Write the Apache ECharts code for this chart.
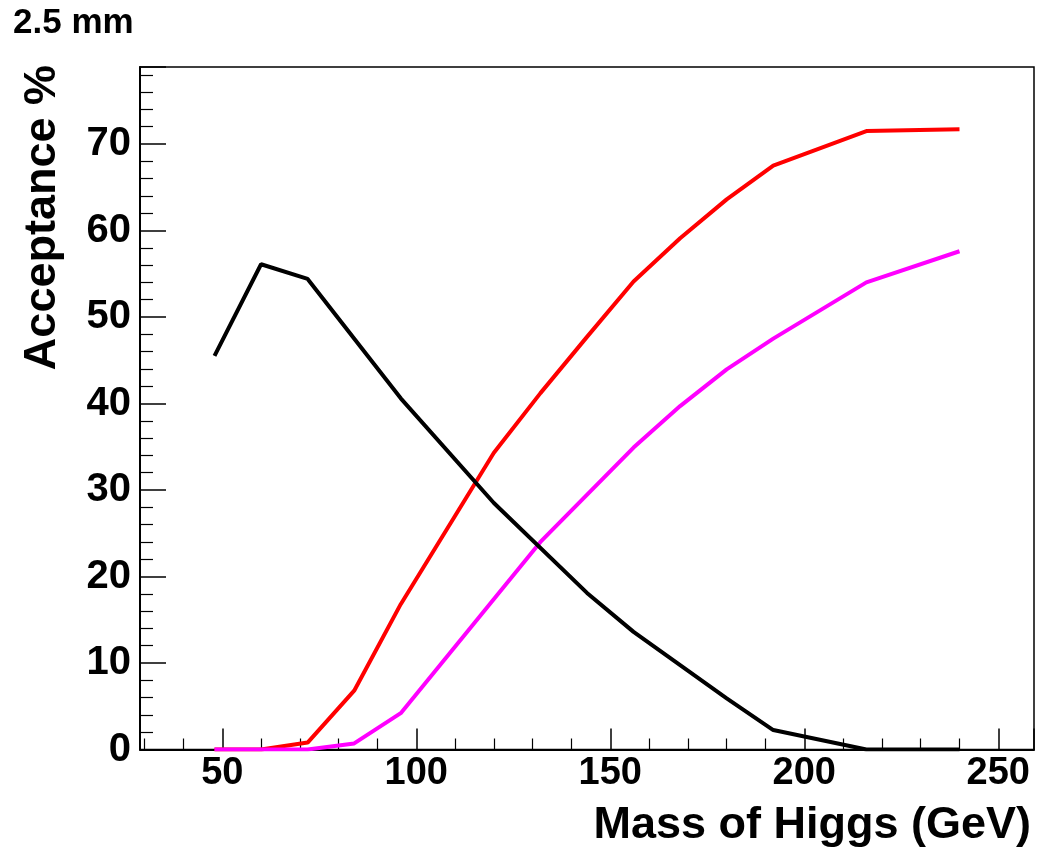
<!DOCTYPE html>
<html>
<head>
<meta charset="utf-8">
<script src="https://cdn.jsdelivr.net/npm/echarts@6/dist/echarts.min.js"></script>
<style>html,body{margin:0;padding:0;background:#fff}#c{width:1039px;height:852px}</style>
</head>
<body>
<div id="c"></div>
<script>
// Data (mass in GeV, acceptance in %)
const blackX = [48, 60, 72, 96, 120, 144, 156, 180, 192, 216, 240];
const blackY = [45.5, 56.1, 54.4, 40.6, 28.5, 18.1, 13.6, 5.9, 2.25, 0, 0];
const redX = [48, 60, 72, 84, 96, 120, 132, 144, 156, 168, 180, 192, 216, 240];
const redY = [0, 0, 0.8, 6.8, 16.8, 34.3, 41.2, 47.7, 54.1, 59.1, 63.6, 67.5, 71.5, 71.7];
const magX = [48, 60, 72, 84, 96, 132, 156, 168, 180, 192, 216, 240];
const magY = [0, 0, 0, 0.7, 4.2, 24.0, 34.9, 39.7, 43.95, 47.5, 54.0, 57.6];
const xRange = [28.8, 259.2];
const yRange = [0, 78.9];
const xTitle = 'Mass of Higgs (GeV)';
const yTitle = 'Acceptance %';
const topLabel = '2.5 mm';

const pairs = (xs, ys) => xs.map((x, i) => [x, ys[i]]);
const FONT = '"Liberation Sans", Arial, sans-serif';

const chart = echarts.init(document.getElementById('c'), null, {renderer: 'canvas'});
const lineSeries = (name, xs, ys, color) => ({
  name, type: 'line', data: pairs(xs, ys), showSymbol: false, symbol: 'none',
  lineStyle: {color, width: 4}, itemStyle: {color}, animation: false, z: 3
});
chart.setOption({
  animation: false,
  backgroundColor: '#fff',
  grid: {left: 140, top: 67, right: 5, bottom: 102.5, show: true, borderColor: '#000', borderWidth: 1.5, containLabel: false, outerBoundsMode: 'none'},
  xAxis: {
    type: 'value', min: xRange[0], max: xRange[1], splitNumber: 5,
    axisLine: {show: true, onZero: false, lineStyle: {color: '#000', width: 2}},
    axisTick: {show: true, inside: true, length: 21, lineStyle: {color: '#000', width: 1.5}},
    minorTick: {show: true, splitNumber: 5, length: 11, lineStyle: {color: '#000', width: 1.2}},
    splitLine: {show: false},
    axisLabel: {show: true, showMinLabel: false, showMaxLabel: false, margin: 5, color: '#000', fontFamily: FONT, fontWeight: 'bold', fontSize: 38}
  },
  yAxis: {
    type: 'value', min: yRange[0], max: yRange[1], interval: 10,
    axisLine: {show: true, onZero: false, lineStyle: {color: '#000', width: 2}},
    axisTick: {show: true, inside: true, length: 26, lineStyle: {color: '#000', width: 1.5}},
    minorTick: {show: true, splitNumber: 5, length: 13, lineStyle: {color: '#000', width: 1.2}},
    splitLine: {show: false},
    axisLabel: {show: true, showMaxLabel: false, margin: 9, color: '#000', fontFamily: FONT, fontWeight: 'bold', fontSize: 40}
  },
  series: [
    lineSeries('red', redX, redY, '#ff0000'),
    lineSeries('magenta', magX, magY, '#ff00ff'),
    lineSeries('black', blackX, blackY, '#000000')
  ],
  graphic: [
    {type: 'text', x: 1031, y: 826, style: {text: xTitle, fill: '#000', font: 'bold 45px ' + FONT, textAlign: 'right', textVerticalAlign: 'middle'}},
    {type: 'text', x: 43, y: 65, rotation: Math.PI / 2, style: {text: yTitle, fill: '#000', font: 'bold 45px ' + FONT, textAlign: 'right', textVerticalAlign: 'middle'}},
    {type: 'text', x: 13, y: 23, style: {text: topLabel, fill: '#000', font: 'bold 35px ' + FONT, textAlign: 'left', textVerticalAlign: 'middle'}}
  ]
});
</script>
</body>
</html>
